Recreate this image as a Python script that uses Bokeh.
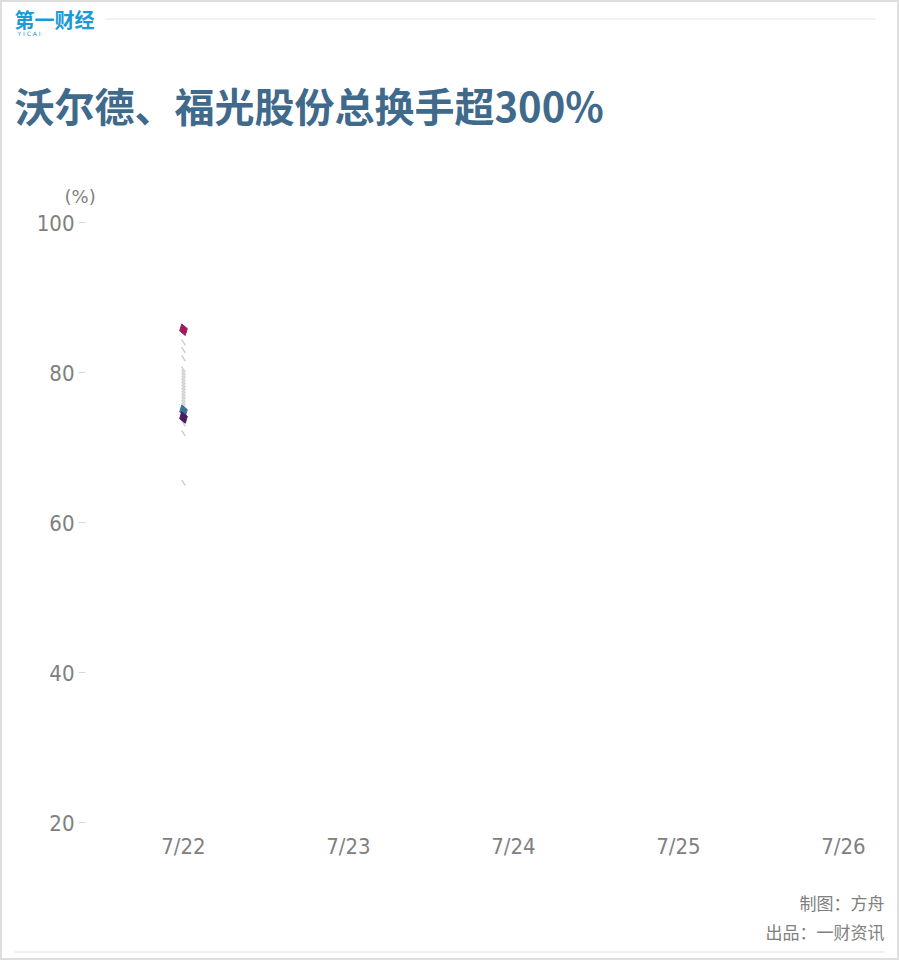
from bokeh.plotting import figure
from bokeh.models import Range1d, FixedTicker, ColumnDataSource
from bokeh.layouts import column
from bokeh.core.properties import value
from bokeh.embed import file_html
from bokeh.resources import INLINE

# ---- data ----
dates = ["7/22", "7/23", "7/24", "7/25", "7/26"]
y_ticks = [20, 40, 60, 80, 100]

highlight_names = ["沃尔德", "福光股份", "其他"]
highlight_day = [0, 0, 0]
highlight_values = [85.7, 74.9, 74.0]
highlight_colors = ["#a3195b", "#3b7299", "#4a1b60"]

other_day = [0] * 20
other_values = [84.0, 83.0, 81.9, 80.4, 80.0, 79.6, 79.2, 78.8, 78.4, 78.0,
                77.6, 77.2, 76.8, 76.4, 76.0, 75.6, 75.2, 73.2, 71.9, 65.3]

title_text = "沃尔德、福光股份总换手超300%"
unit_text = "(%)"
credit_1 = "制图：方舟"
credit_2 = "出品：一财资讯"

W = 895
CJK = "Noto Sans CJK SC"
TICK_FONT = "DejaVu Sans Condensed"
GRAY = "#808080"


def blank(h):
    f = figure(width=W, height=h, output_backend="svg", toolbar_location=None,
               x_range=Range1d(0, W), y_range=Range1d(h, 0),
               x_axis_type=None, y_axis_type=None, min_border=0,
               frame_align=False)
    f.outline_line_color = None
    f.xgrid.visible = False
    f.ygrid.visible = False
    f.background_fill_color = "white"
    f.border_fill_color = "white"
    return f


# ---- header ----
HH = 208
head = blank(HH)
head.text(x=[12], y=[17], text=["第一财经"], text_font=value(CJK),
          text_font_size="20px", text_font_style="bold", text_color="#1a9ad6",
          text_baseline="middle")
head.text(x=[15], y=[31], text=["Y    I    C    A    I"], text_font=value("DejaVu Sans"),
          text_font_size="6px", text_color="#1a9ad6", text_baseline="middle")
head.segment(x0=[103], y0=[16.5], x1=[873], y1=[16.5], line_color="#e3e3e3", line_width=1)
head.text(x=[12], y=[102], text=[title_text], text_font=value(CJK),
          text_font_size="40px", text_font_style="bold", text_color="#3f6a8b",
          text_baseline="middle")
head.text(x=[62], y=[194], text=[unit_text], text_font=value("DejaVu Sans"),
          text_font_size="18px", text_color=GRAY, text_baseline="middle")

# ---- main chart ----
p = figure(width=W, height=670, output_backend="svg", toolbar_location=None,
           x_range=Range1d(-0.594, 4.164), y_range=Range1d(20, 100),
           min_border_left=83, min_border_right=27, min_border_top=12,
           min_border_bottom=58, frame_align=False)
p.outline_line_color = None
p.xgrid.visible = False
p.ygrid.visible = False
p.background_fill_color = "white"
p.border_fill_color = "white"

ya = p.yaxis[0]
ya.ticker = FixedTicker(ticks=y_ticks)
ya.axis_line_color = None
ya.major_tick_line_color = "#d9d9d9"
ya.major_tick_out = 7
ya.major_tick_in = 0
ya.minor_tick_line_color = None
ya.major_label_standoff = 4
ya.major_label_text_font = TICK_FONT
ya.major_label_text_font_size = "22px"
ya.major_label_text_color = GRAY

xa = p.xaxis[0]
xa.ticker = FixedTicker(ticks=list(range(len(dates))))
xa.major_label_overrides = {i: d for i, d in enumerate(dates)}
xa.axis_line_color = None
xa.major_tick_line_color = None
xa.minor_tick_line_color = None
xa.major_label_standoff = 5
xa.major_label_text_font = TICK_FONT
xa.major_label_text_font_size = "22px"
xa.major_label_text_color = GRAY

p.scatter(other_day, other_values, marker="dash", size=7, angle=-1.0,
          line_color="#cfcfcf", line_width=1.5)

src = ColumnDataSource(dict(x=highlight_day, y=highlight_values,
                            c=highlight_colors, n=highlight_names))
p.scatter("x", "y", source=src, marker="diamond", size=12, angle=0.3,
          fill_color="c", line_color="c")

# ---- footer ----
FH = 78
foot = blank(FH)
foot.text(x=[882], y=[22], text=[credit_1], text_font=value(CJK),
          text_font_size="17px", text_color=GRAY, text_align="right",
          text_baseline="middle")
foot.text(x=[882], y=[51], text=[credit_2], text_font=value(CJK),
          text_font_size="17px", text_color=GRAY, text_align="right",
          text_baseline="middle")
foot.segment(x0=[12], y0=[71.5], x1=[882], y1=[71.5], line_color="#dddddd", line_width=1)

layout = column(head, p, foot, spacing=0,
                styles={"border": "2px solid #dedede"})

open("out.html", "w").write(file_html(layout, INLINE))
